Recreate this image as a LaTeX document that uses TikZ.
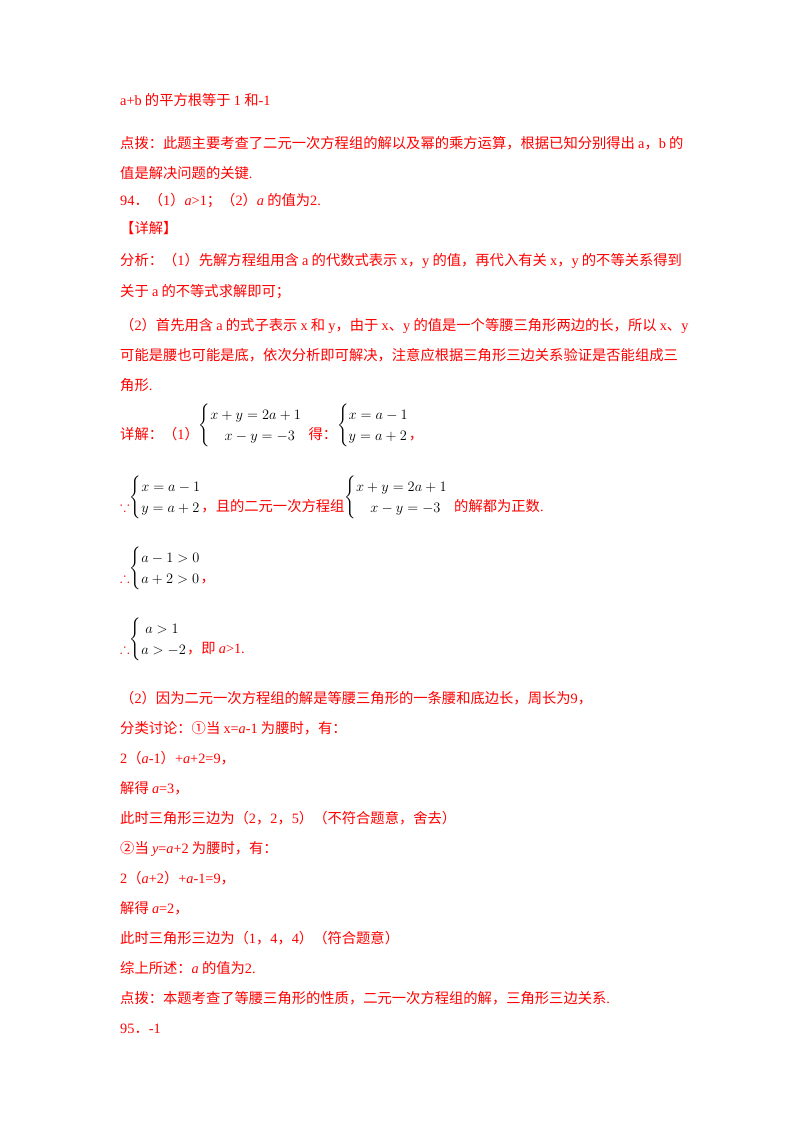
\documentclass[tikz,border=0pt]{standalone}
\usepackage{fontspec}
\setmainfont{Noto Sans CJK SC}
\newfontfamily\lat{Liberation Serif}
\usepackage{amssymb}
\newcommand{\sysb}[2]{\raisebox{10pt}{\color{black}$\renewcommand{\arraystretch}{1.25}\left\{\begin{array}{@{}l@{}}#1\\#2\end{array}\right.$}}
\begin{document}
\begin{tikzpicture}[x=1pt,y=-1pt,
  t/.style={anchor=base west,inner sep=0,text=red,font=\fontsize{14.3}{17}\selectfont}]
\useasboundingbox[fill=white] (0,0) rectangle (800,1132);
\node[t] (l1) at (120,105) {{\lat a+b} 的平方根等于 {\lat 1} 和{\lat -1}};
\node[t] (l2) at (120,148) {点拨：此题主要考查了二元一次方程组的解以及幂的乘方运算，根据已知分别得出 {\lat a}，{\lat b} 的};
\node[t] (l3) at (120,178) {值是解决问题的关键{\lat .}};
\node[t] (l4) at (120,205) {{\lat 94}．（{\lat 1}）{\lat \textit{a}>1}；（{\lat 2}）{\lat \textit{a}} 的值为{\lat 2.}};
\node[t] (l5) at (120,233) {【详解】};
\node[t] (l6) at (120,265) {分析：（{\lat 1}）先解方程组用含 {\lat a} 的代数式表示 {\lat x}，{\lat y} 的值，再代入有关 {\lat x}，{\lat y} 的不等关系得到};
\node[t] (l7) at (120,296) {关于 {\lat a} 的不等式求解即可；};
\node[t] (l8) at (120,330) {（{\lat 2}）首先用含 {\lat a} 的式子表示 {\lat x} 和 {\lat y}，由于 {\lat x}、{\lat y} 的值是一个等腰三角形两边的长，所以 {\lat x}、{\lat y}};
\node[t] (l9) at (120,360) {可能是腰也可能是底，依次分析即可解决，注意应根据三角形三边关系验证是否能组成三};
\node[t] (l10) at (120,390) {角形{\lat .}};
\node[t] (s1) at (120,439) {详解：（{\lat 1}）\sysb{x+y=2a+1}{\quad x-y=-3}\ \ 得：\sysb{x=a-1}{y=a+2}，};
\node[t] (s2) at (120,511) {$\because$\sysb{x=a-1}{y=a+2}，且的二元一次方程组\sysb{x+y=2a+1}{\quad x-y=-3}\ \ 的解都为正数{\lat .}};
\node[t] (s3) at (120,582) {$\therefore$\sysb{a-1>0}{a+2>0}，};
\node[t] (s4) at (120,653) {$\therefore$\sysb{\;a>1}{a>-2}，即 {\lat \textit{a}>1.}};
\node[t] (m1) at (120,703) {（{\lat 2}）因为二元一次方程组的解是等腰三角形的一条腰和底边长，周长为{\lat 9}，};
\node[t] (m2) at (120,733) {分类讨论：①当 {\lat x=\textit{a}-1} 为腰时，有：};
\node[t] (m3) at (120,763) {{\lat 2}（{\lat \textit{a}-1}）{\lat +\textit{a}+2=9}，};
\node[t] (m4) at (120,793) {解得 {\lat \textit{a}=3}，};
\node[t] (m5) at (120,823) {此时三角形三边为（{\lat 2}，{\lat 2}，{\lat 5}）（不符合题意，舍去）};
\node[t] (m6) at (120,853) {②当 {\lat \textit{y}=\textit{a}+2} 为腰时，有：};
\node[t] (m7) at (120,883) {{\lat 2}（{\lat \textit{a}+2}）{\lat +\textit{a}-1=9}，};
\node[t] (m8) at (120,913) {解得 {\lat \textit{a}=2}，};
\node[t] (m9) at (120,943) {此时三角形三边为（{\lat 1}，{\lat 4}，{\lat 4}）（符合题意）};
\node[t] (m10) at (120,973) {综上所述：{\lat \textit{a}} 的值为{\lat 2.}};
\node[t] (m11) at (120,1003) {点拨：本题考查了等腰三角形的性质，二元一次方程组的解，三角形三边关系{\lat .}};
\node[t] (m12) at (120,1033) {{\lat 95}．{\lat -1}};
\end{tikzpicture}
\end{document}
